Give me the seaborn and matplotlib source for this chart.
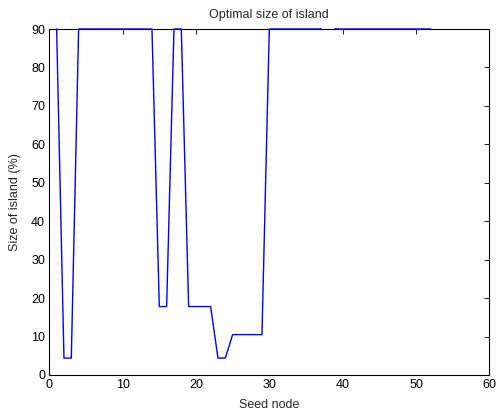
import matplotlib
matplotlib.use("Agg")
import matplotlib.pyplot as plt
import matplotlib.patches as mpatches
import seaborn as sns
import pandas as pd

seed_nodes = list(range(1, 53))
island_size = [90, 4.4, 4.4] + [90] * 11 + [17.8, 17.8, 90, 90] + [17.8] * 4 + \
    [4.4, 4.4] + [10.5] * 5 + [90] * 8 + [100] + [90] * 14

x_ticks = [0, 10, 20, 30, 40, 50, 60]
y_ticks = [0, 10, 20, 30, 40, 50, 60, 70, 80, 90]

sns.set_style("white")
plt.rcParams['font.family'] = ['Liberation Sans', 'DejaVu Sans']

df = pd.DataFrame({"Seed node": seed_nodes, "Size": island_size})

fig = plt.figure(figsize=(4.96, 4.15), dpi=100)
ax = fig.add_axes([0.0994, 0.0964, 0.8871, 0.8337])
sns.lineplot(data=df, x="Seed node", y="Size", ax=ax, color="#0000ff",
             linewidth=1.0, estimator=None)
ax.set_xlim(0, 60)
ax.set_ylim(0, 90)
line = ax.lines[0]
line.set_zorder(3)
clip = mpatches.Rectangle((0, -0.005), 1, 1.0085, transform=ax.transAxes,
                          fill=False, visible=False)
ax.add_patch(clip)
line.set_clip_path(clip)
ax.set_xticks(x_ticks)
ax.set_yticks(y_ticks)
ax.tick_params(direction="in", length=3.5, width=0.6, labelsize=9,
               top=True, right=True, colors="black", pad=3)
for s in ax.spines.values():
    s.set_visible(True)
    s.set_color("black")
    s.set_linewidth(0.8)
ax.set_xlabel("Seed node", fontsize=9, labelpad=6)
ax.set_ylabel("Size of island (%)", fontsize=9, labelpad=7)
ax.set_title("Optimal size of island", fontsize=9, pad=8)
fig.savefig("out.png", dpi=100)
